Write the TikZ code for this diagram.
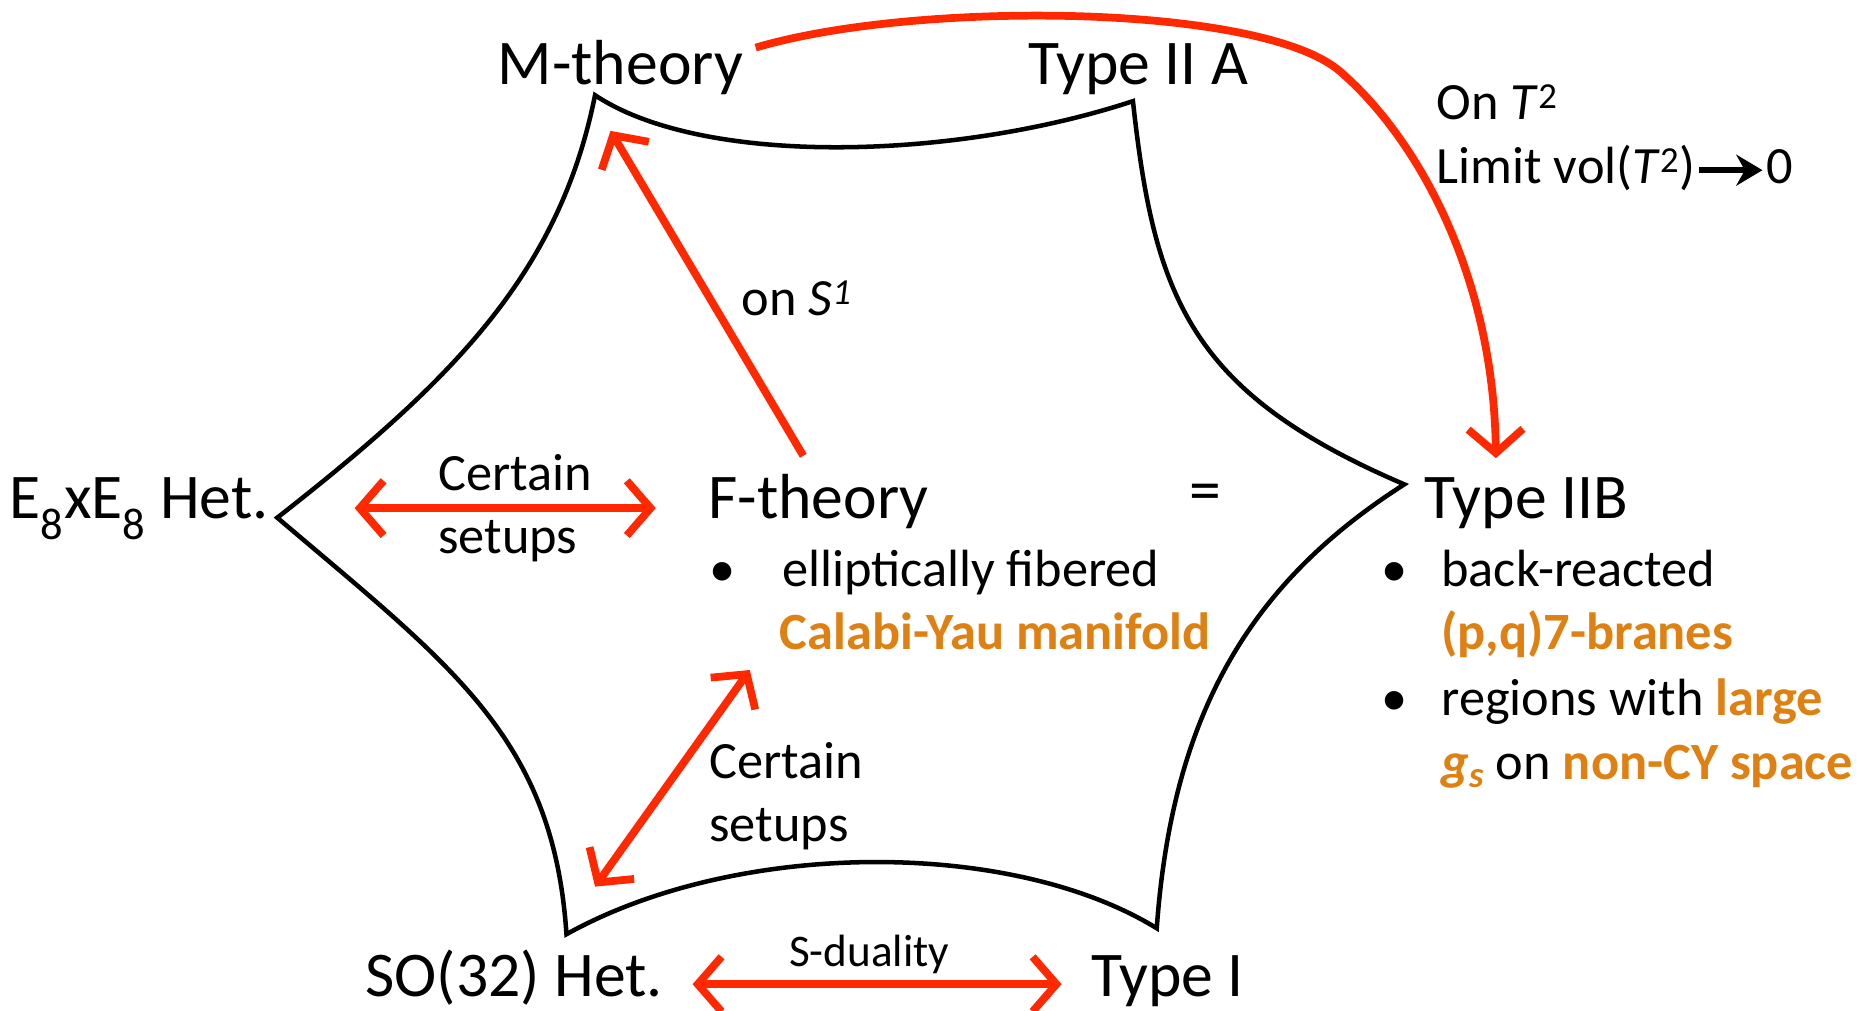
\documentclass[tikz,border=0pt]{standalone}
\usepackage{fontspec}
\setmainfont{Carlito}
\usetikzlibrary{arrows.meta}
\definecolor{dred}{RGB}{255,40,0}
\definecolor{dorange}{RGB}{222,128,18}
\newcommand{\bigf}{\fontsize{53.5}{64}\selectfont}
\newcommand{\midf}{\fontsize{44}{54}\selectfont}
\newcommand{\smf}{\fontsize{38}{46}\selectfont}
\newcommand{\org}[1]{\textcolor{dorange}{\bfseries #1}}
\begin{document}
\begin{tikzpicture}[x=1pt,y=-1pt,
  big/.style={anchor=base west,inner sep=0pt,font=\bigf},
  txt/.style={anchor=base west,inner sep=0pt,font=\midf},
  hexline/.style={draw=black,line width=3.8pt,line join=miter},
  redone/.style={draw=dred,line width=6.5pt,-{Straight Barb[length=20pt,width=46pt]}},
  redtwo/.style={draw=dred,line width=6.5pt,{Straight Barb[length=20pt,width=46pt]}-{Straight Barb[length=20pt,width=46pt]}},
  blackarr/.style={draw=black,line width=5pt,-{Stealth[length=22pt,width=26pt]}}
]
\useasboundingbox (0,0) rectangle (1568,849);

% hexagon-like curved star
\coordinate (tl) at (500,80);
\coordinate (tr) at (952,85);
\coordinate (r)  at (1180,407);
\coordinate (br) at (972,780);
\coordinate (bl) at (476,785);
\coordinate (l)  at (233,435);
\draw[hexline] (tl) .. controls (590,140) and (800,135) .. (tr)
  .. controls (970,250) and (1000,330) .. (r)
  .. controls (1050,490) and (985,600) .. (br)
  .. controls (850,705) and (620,705) .. (bl)
  .. controls (465,620) and (380,560) .. (l)
  .. controls (380,320) and (470,230) .. cycle;

% main labels
\node[big] (m) at (418,71) {M-theory};
\node[big] (iia) at (864,71) {Type II A};
\node[big] (e8) at (8,436) {E\textsubscript{8}xE\textsubscript{8} Het.};
\node[big] (f) at (595,436) {F-theory};
\node[font=\bigf,inner sep=0pt] (eq) at (1013,418) {=};
\node[big] (iib) at (1197,436) {Type IIB};
\node[big] (so) at (307,837) {SO(32) Het.};
\node[big] (ti) at (917,837) {Type I};

% F-theory bullets
\node[txt] (fb1) at (596,493) {•};
\node[txt] (fl1) at (657,493) {elliptically fibered};
\node[txt] (fl2) at (655,546) {\org{Calabi-Yau manifold}};

% Type IIB bullets
\node[txt] (ib1) at (1161,493) {•};
\node[txt] (il1) at (1211,493) {back-reacted};
\node[txt] (il2) at (1211,546) {\org{(p,q)7-branes}};
\node[txt] (ib2) at (1161,601) {•};
\node[txt] (il3) at (1211,601) {regions with \org{large}};
\node[txt] (il4) at (1211,655) {\org{\itshape g\textsubscript{s}} on \org{non-CY space}};

% arrow labels
\node[txt] (c1a) at (368,412) {Certain};
\node[txt] (c1b) at (368,465) {setups};
\node[txt] (c2a) at (596,654) {Certain};
\node[txt] (c2b) at (596,707) {setups};
\node[txt] (s1) at (623,265) {on \textit{S\textsuperscript{1}}};
\node[anchor=base west,inner sep=0pt,font=\smf] (sd) at (663,812) {S-duality};
\node[txt] (t2a) at (1207,100) {On \textit{T}\textsuperscript{2}};
\node[txt] (t2b) at (1207,154) {Limit vol(\textit{T}\textsuperscript{2})};
\node[txt] (zero) at (1484,154) {0};

% arrows
\coordinate (a1s) at (298,427);
\coordinate (a1e) at (551,427);
\draw[redtwo] (a1s) -- (a1e);
\coordinate (fm0) at (675,383);
\coordinate (fm1) at (513,110);
\draw[redone] (fm0) -- (fm1);
\coordinate (lo0) at (630,563);
\coordinate (lo1) at (500,745);
\draw[redtwo] (lo0) -- (lo1);
\coordinate (bo0) at (582,827);
\coordinate (bo1) at (892,827);
\draw[redtwo] (bo0) -- (bo1);
\coordinate (cv0) at (635,40);
\coordinate (cvm) at (1126,60);
\coordinate (cv1) at (1257,385);
\draw[redone] (cv0) .. controls (770,0) and (1060,3) .. (cvm)
  .. controls (1190,115) and (1255,230) .. (cv1);
\coordinate (k0) at (1428,143);
\coordinate (k1) at (1481,143);
\draw[blackarr] (k0) -- (k1);
\end{tikzpicture}
\end{document}
